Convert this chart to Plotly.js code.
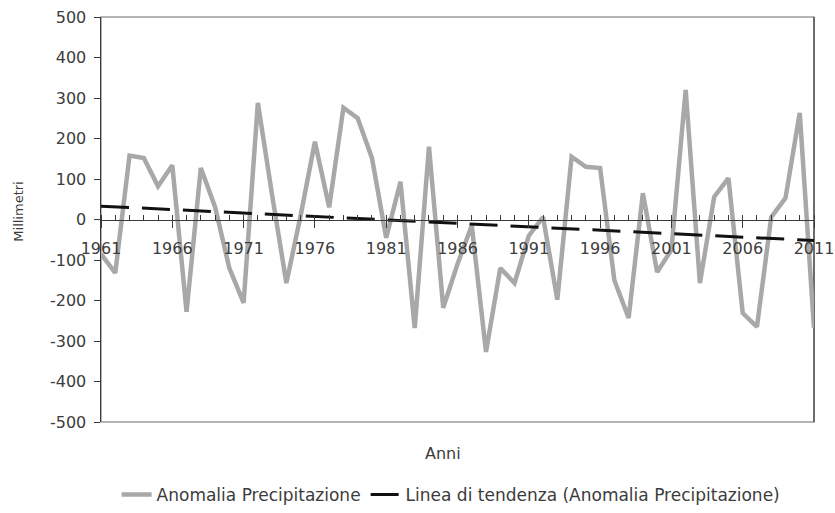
<!DOCTYPE html>
<html>
<head>
<meta charset="utf-8">
<script src="https://cdn.plot.ly/plotly-3.0.1.min.js"></script>
<style>html,body{margin:0;padding:0;background:#fff;}</style>
</head>
<body>
<div id="chart" style="width:835px;height:513px;"></div>
<script>
// Years 1961..2011
const years = [1961,1962,1963,1964,1965,1966,1967,1968,1969,1970,
  1971,1972,1973,1974,1975,1976,1977,1978,1979,1980,
  1981,1982,1983,1984,1985,1986,1987,1988,1989,1990,
  1991,1992,1993,1994,1995,1996,1997,1998,1999,2000,
  2001,2002,2003,2004,2005,2006,2007,2008,2009,2010,2011];
// Anomalia Precipitazione (mm)
const anomalia = [-85,-132,158,152,82,134,-228,127,31,-120,
  -206,288,60,-157,10,192,30,276,250,152,
  -45,93,-268,180,-218,-110,-15,-327,-120,-157,
  -40,6,-198,155,130,127,-150,-243,65,-130,
  -75,320,-157,56,102,-231,-265,6,53,263,-268];
// Linea di tendenza endpoints
const trendYears = [1961, 2011];
const trendValues = [33, -52];

// Axis tick labels
const yTickVals = [-500,-400,-300,-200,-100,0,100,200,300,400,500];
const yTickText = ['-500','-400','-300','-200','-100','0','100','200','300','400','500'];
const xTickVals = [1961,1966,1971,1976,1981,1986,1991,1996,2001,2006,2011];
const xTickText = ['1961','1966','1971','1976','1981','1986','1991','1996','2001','2006','2011'];

const seriesNames = ['Anomalia Precipitazione', 'Linea di tendenza (Anomalia Precipitazione)'];
const xTitle = 'Anni';
const yTitle = 'Millimetri';

const txt = '#3c3c3c';
const axisCol = '#3a3a3a';

const traces = [
  {x: years, y: anomalia, type: 'scatter', mode: 'lines', name: seriesNames[0],
   line: {color: '#a8a8a8', width: 4.5}},
  {x: trendYears, y: trendValues, type: 'scatter', mode: 'lines', name: seriesNames[1],
   line: {color: '#111111', width: 3, dash: '28px,13px'}}
];

const layout = {
  width: 835, height: 513,
  margin: {l: 101, r: 21, t: 17, b: 91},
  paper_bgcolor: '#ffffff', plot_bgcolor: '#ffffff',
  font: {family: 'DejaVu Sans, Arial, sans-serif', size: 16, color: txt},
  showlegend: true,
  legend: {orientation: 'h', xref: 'paper', yref: 'container', x: 0.491, xanchor: 'center',
           y: 0.035, yanchor: 'middle',
           font: {size: 17, color: txt}, bgcolor: 'rgba(0,0,0,0)', tracegroupgap: 0},
  xaxis: {
    range: [1961, 2011], anchor: 'free', position: 0.5,
    tickmode: 'array', tickvals: xTickVals, ticktext: xTickText,
    ticks: 'outside', ticklen: 7, tickcolor: axisCol, tickwidth: 1,
    showline: true, linecolor: axisCol, linewidth: 1.3,
    showgrid: false, zeroline: false,
    minor: {tick0: 1961, dtick: 1, ticks: 'inside', ticklen: 5, tickcolor: axisCol, showgrid: false},
    ticklabelstandoff: 7,
    tickfont: {size: 16, color: txt}
  },
  yaxis: {
    range: [-500, 500], tickmode: 'array', tickvals: yTickVals, ticktext: yTickText,
    ticks: 'outside', ticklen: 6, tickcolor: axisCol,
    showline: true, linecolor: axisCol, linewidth: 1.5,
    showgrid: false, zeroline: false,
    ticklabelstandoff: 4,
    tickfont: {size: 16, color: txt}
  },
  shapes: [
    {type: 'rect', xref: 'paper', yref: 'paper', x0: 0, x1: 1, y0: 0, y1: 1,
     line: {color: '#9c9c9c', width: 1.5}, layer: 'below'},
    {type: 'line', xref: 'paper', yref: 'paper', x0: 1, x1: 1, y0: 0, y1: 1,
     line: {color: '#555555', width: 1.5}, layer: 'below'}
  ],
  annotations: [
    {text: xTitle, xref: 'paper', yref: 'paper', x: 0.48, y: -0.079,
     xanchor: 'center', yanchor: 'middle', showarrow: false, font: {size: 16, color: txt}},
    {text: yTitle, xref: 'paper', yref: 'paper', x: -0.116, y: 0.52,
     xanchor: 'center', yanchor: 'middle', textangle: -90, showarrow: false,
     font: {family: 'DejaVu Sans, Arial, sans-serif', size: 13, color: txt}}
  ]
};

Plotly.newPlot('chart', traces, layout, {displayModeBar: false, staticPlot: true});
</script>
</body>
</html>
